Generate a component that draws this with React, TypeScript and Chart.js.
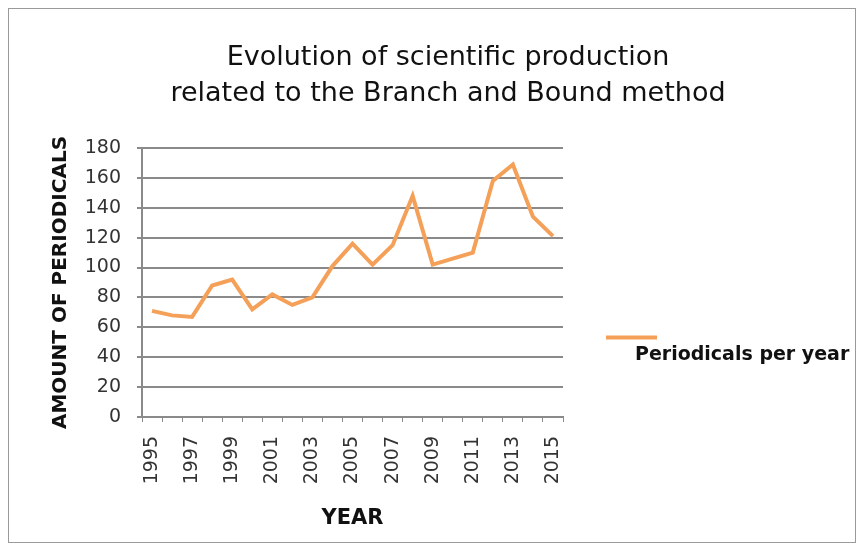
import React, { useEffect, useRef } from "react";
import { Chart, registerables } from "chart.js";

Chart.register(...registerables);

const years: string[] = [
  "1995", "1996", "1997", "1998", "1999", "2000", "2001", "2002", "2003", "2004", "2005",
  "2006", "2007", "2008", "2009", "2010", "2011", "2012", "2013", "2014", "2015",
];
const periodicals: number[] = [
  71, 68, 67, 88, 92, 72, 82, 75, 80, 101, 116,
  102, 115, 148, 102, 106, 110, 158, 169, 134, 121,
];
const seriesLabel = "Periodicals per year";
const titleLines = ["Evolution of scientific production", "related to the Branch and Bound method"];
const yTitle = "AMOUNT OF PERIODICALS";
const xTitle = "YEAR";
const yMin = 0;
const yMax = 180;
const yStep = 20;

const FONT = "'DejaVu Sans', 'Liberation Sans', Arial, sans-serif";
const LINE_COLOR = "#F5A058";
const GRID_COLOR = "#8a8a8a";

const legendPlugin = {
  id: "customLegend",
  afterDraw(chart: any) {
    const { ctx, chartArea } = chart;
    const ds = chart.data.datasets[0];
    const mid = (chartArea.top + chartArea.bottom) / 2;
    const x0 = chartArea.right + 43;
    const lineY = mid + 55;
    ctx.save();
    ctx.strokeStyle = ds.borderColor;
    ctx.lineWidth = 4;
    ctx.beginPath();
    ctx.moveTo(x0, lineY);
    ctx.lineTo(x0 + 51, lineY);
    ctx.stroke();
    ctx.fillStyle = "#111";
    ctx.font = `bold 19px ${FONT}`;
    ctx.textBaseline = "middle";
    ctx.textAlign = "left";
    ctx.fillText(ds.label, x0 + 29, mid + 73);
    ctx.restore();
  },
};

export default function App() {
  const ref = useRef<HTMLCanvasElement | null>(null);
  useEffect(() => {
    if (!ref.current) return;
    const chart = new Chart(ref.current, {
      type: "line",
      data: {
        labels: years,
        datasets: [
          {
            label: seriesLabel,
            data: periodicals,
            borderColor: LINE_COLOR,
            backgroundColor: LINE_COLOR,
            borderWidth: 4,
            pointRadius: 0,
            tension: 0,
            yAxisID: "y",
          },
        ],
      },
      options: {
        animation: false,
        responsive: false,
        layout: { padding: { left: 32, right: 0, top: 0, bottom: 0 } },
        plugins: {
          legend: { display: false },
          tooltip: { enabled: false },
          title: {
            display: true,
            text: titleLines,
            color: "#111",
            font: { family: FONT, size: 27, weight: "normal", lineHeight: 36 / 27 },
            padding: { top: 31, bottom: 36 },
          },
        },
        scales: {
          x: {
            type: "category",
            offset: true,
            afterFit: (s: any) => {
              s.height = 125;
            },
            grid: {
              display: true,
              drawOnChartArea: false,
              drawTicks: true,
              tickLength: 5,
              color: GRID_COLOR,
              lineWidth: 1,
              offset: true,
            },
            border: { display: true, color: GRID_COLOR, width: 2 },
            ticks: {
              autoSkip: false,
              minRotation: 90,
              maxRotation: 90,
              padding: 14,
              color: "#333",
              font: { family: FONT, size: 19 },
              callback: (_v: any, i: number) => (i % 2 === 0 ? years[i] : ""),
            },
            title: {
              display: true,
              text: xTitle,
              color: "#111",
              font: { family: FONT, size: 21, weight: "bold" },
              padding: { top: 0, bottom: 11 },
            },
          },
          y: {
            type: "linear",
            position: "left",
            min: yMin,
            max: yMax,
            afterFit: (s: any) => {
              s.width = 101;
            },
            grid: {
              color: GRID_COLOR,
              lineWidth: 2,
              tickLength: 5,
            },
            border: { display: true, color: GRID_COLOR, width: 2 },
            ticks: {
              stepSize: yStep,
              padding: 16,
              color: "#333",
              font: { family: FONT, size: 19 },
            },
            title: {
              display: true,
              text: yTitle,
              color: "#111",
              font: { family: FONT, size: 20, weight: "bold" },
              padding: { top: 8, bottom: 0 },
            },
          },
          yRight: {
            type: "linear",
            position: "right",
            display: true,
            afterFit: (s: any) => {
              s.width = 292;
            },
            grid: { display: false },
            border: { display: false },
            ticks: { display: false },
          },
        },
      },
      plugins: [legendPlugin],
    });
    return () => chart.destroy();
  }, []);

  return (
    <div
      style={{
        width: 846,
        height: 533,
        border: "1px solid #9a9a9a",
        background: "#fff",
      }}
    >
      <canvas ref={ref} width={846} height={533} style={{ display: "block" }} />
    </div>
  );
}
